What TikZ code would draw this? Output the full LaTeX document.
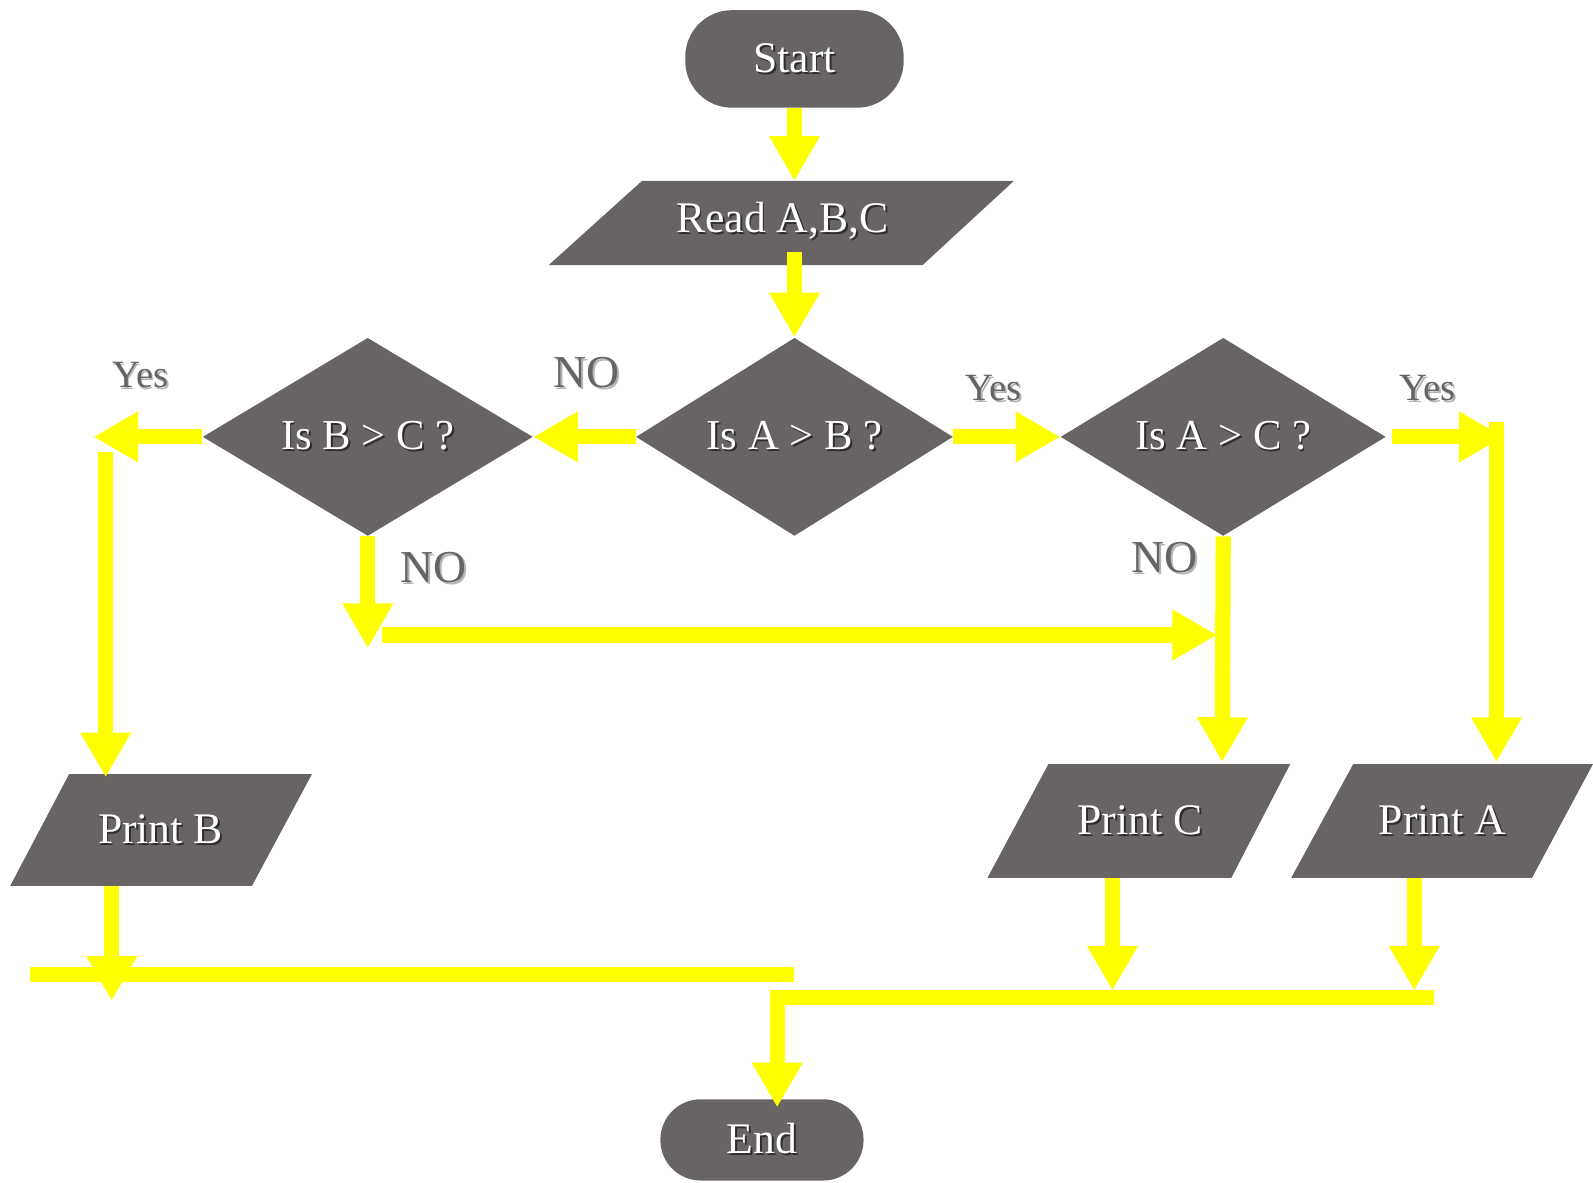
\documentclass[tikz,border=0pt]{standalone}
\usepackage{fontspec}
\setmainfont{Liberation Serif}
\usetikzlibrary{arrows.meta,shapes.geometric}
\definecolor{boxgray}{HTML}{676463}
\definecolor{yell}{HTML}{FFFF00}
\definecolor{shdark}{HTML}{2E2C2C}
\definecolor{shlight}{HTML}{B4B4B4}
\newcommand{\shtxt}[2]{\rlap{\kern0.9pt\raisebox{-0.9pt}{\textcolor{#1}{#2}}}#2}
\begin{document}
\begin{tikzpicture}[x=0.5pt,y=-0.5pt,
  term/.style={fill=boxgray, inner sep=0pt, text=white, font=\fontsize{21.5}{25}\selectfont},
  decision/.style={diamond, fill=boxgray, inner sep=0pt, minimum width=156pt, minimum height=97.5pt, aspect=1.6, text=white, font=\fontsize{21}{25}\selectfont},
  iotext/.style={inner sep=0pt, text=white, font=\fontsize{21.5}{25}\selectfont},
  iobox/.style={fill=boxgray},
  lbl/.style={inner sep=0pt, text=boxgray},
  yeslbl/.style={lbl, font=\fontsize{19}{22}\selectfont},
  nolbl/.style={lbl, font=\fontsize{22.5}{26}\selectfont},
  pipe/.style={draw=yell, line width=7.5pt},
  flow/.style={pipe, -{Triangle[width=23.5pt,length=22pt]}}
]
\useasboundingbox (0,0) rectangle (1568,1163.5);

% terminals
\node[term, rounded corners=23pt, minimum width=107.5pt, minimum height=48pt] (start) at (782,58) {\shtxt{shdark}{Start}};
\node[term, rounded corners=19.9pt, minimum width=100pt, minimum height=40pt] (end) at (750,1122) {\shtxt{shdark}{End}};

% parallelograms
\fill[iobox] (632,178) -- (998,178) -- (908,261) -- (540,261) -- cycle;
\node[iotext] (read) at (770,218) {\shtxt{shdark}{Read A,B,C}};
\coordinate (readN) at (782,178);
\coordinate (readS) at (782,248);

\fill[iobox] (68,762) -- (307,762) -- (248,872) -- (10,872) -- cycle;
\node[iotext] (printB) at (158,817) {\shtxt{shdark}{Print B}};
\coordinate (printBN) at (104,765);
\coordinate (printBS) at (110,872);

\fill[iobox] (1032,752) -- (1270,752) -- (1212,864) -- (972,864) -- cycle;
\node[iotext] (printC) at (1122,808) {\shtxt{shdark}{Print C}};
\coordinate (printCN) at (1203,750);
\coordinate (printCS) at (1095,864);

\fill[iobox] (1332,752) -- (1568,752) -- (1508,864) -- (1271,864) -- cycle;
\node[iotext] (printA) at (1420,808) {\shtxt{shdark}{Print A}};
\coordinate (printAN) at (1473,750);
\coordinate (printAS) at (1392,864);

% decisions
\node[decision, minimum width=162.5pt] (bc) at (362,430) {\shtxt{shdark}{Is B > C ?}};
\node[decision] (ab) at (782,430) {\shtxt{shdark}{Is A > B ?}};
\node[decision, minimum width=160pt] (ac) at (1204,430) {\shtxt{shdark}{Is A > C ?}};

% labels
\node[yeslbl] (yes1) at (138,370) {\shtxt{shlight}{Yes}};
\node[nolbl] (no1) at (577,368) {\shtxt{shlight}{NO}};
\node[yeslbl] (yes2) at (978,383) {\shtxt{shlight}{Yes}};
\node[yeslbl] (yes3) at (1405,383) {\shtxt{shlight}{Yes}};
\node[nolbl] (no2) at (427,560) {\shtxt{shlight}{NO}};
\node[nolbl] (no3) at (1146,550) {\shtxt{shlight}{NO}};

% helper coordinates
\coordinate (yesBtip) at (92,430);
\coordinate (yesBtop) at (104,445);
\coordinate (acE) at (1370,430);
\coordinate (yesAtip) at (1480,430);
\coordinate (yesAtop) at (1473,415);
\coordinate (bcTip) at (362,638);
\coordinate (noL) at (376,625);
\coordinate (noR) at (1198,625);
\coordinate (bTip) at (110,985);
\coordinate (leftL) at (30,959);
\coordinate (leftR) at (782,959);
\coordinate (cTip) at (1095,975);
\coordinate (aTip) at (1392,975);
\coordinate (busR) at (1411,982);
\coordinate (busL) at (765,982);
\coordinate (endIn) at (765,1090);

% connectors
\draw[flow] (start.south) -- (readN);
\draw[flow] (readS) -- (ab.north);
\draw[flow] (ab.west) -- (bc.east);
\draw[flow] (bc.west) -- (yesBtip);
\draw[flow] (yesBtop) -- (printBN);
\draw[flow] (ab.east) -- (ac.west);
\draw[flow] (acE) -- (yesAtip);
\draw[flow] (yesAtop) -- (printAN);
\draw[flow] (bc.south) -- (bcTip);
\draw[flow] (noL) -- (noR);
\draw[flow] (ac.south) -- (printCN);
\draw[flow] (printBS) -- (bTip);
\draw[pipe] (leftL) -- (leftR);
\draw[flow] (printCS) -- (cTip);
\draw[flow] (printAS) -- (aTip);
\draw[flow, line join=miter] (busR) -- (busL) -- (endIn);
\end{tikzpicture}
\end{document}
